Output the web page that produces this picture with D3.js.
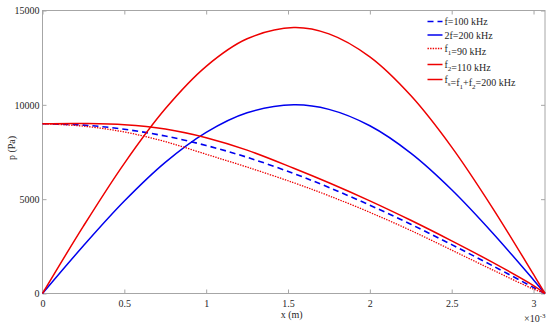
<!DOCTYPE html>
<html>
<head>
<meta charset="utf-8">
<script src="https://cdn.jsdelivr.net/npm/d3@7"></script>
<style>
  body { margin: 0; background: #fff; }
  svg text { font-family: "Liberation Serif", "Times New Roman", serif; }
</style>
</head>
<body>
<div id="chart"></div>
<script>
var xs = [0, 0.25, 0.5, 0.75, 1.0, 1.25, 1.535, 1.75, 2.0, 2.25, 2.5, 2.75, 3.0, 3.07];

// pressure (Pa) for each curve
var pF = [9000, 8925, 8705, 8345, 7845, 7220, 6360, 5620, 4680, 3670, 2590, 1470, 320, 0];
var p2F = [0, 2530, 4900, 6950, 8540, 9580, 10000, 9760, 8890, 7440, 5500, 3210, 720, 0];
var pF1 = [9000, 8870, 8560, 8050, 7380, 6700, 5870, 5180, 4300, 3340, 2300, 1250, 230, 0];
var pF2 = [9000, 9010, 8950, 8720, 8260, 7600, 6640, 5870, 4910, 3880, 2790, 1650, 420, 0];
var pFs = [0, 3570, 6900, 9790, 12040, 13500, 14100, 13760, 12540, 10490, 7760, 4530, 1010, 0];

var xTicks = [0, 0.5, 1, 1.5, 2, 2.5, 3];
var yTicks = [0, 5000, 10000, 15000];

var red = "#ee0000", blue = "#0000ee";

var series = [
  { name: "f", vals: pF, color: blue, dash: "6,4", w: 1.6 },
  { name: "2f", vals: p2F, color: blue, dash: null, w: 1.5 },
  { name: "f1", vals: pF1, color: red, dash: "1.4,1.2", w: 1.3 },
  { name: "f2", vals: pF2, color: red, dash: null, w: 1.5 },
  { name: "fs", vals: pFs, color: red, dash: null, w: 1.5 }
];

var width = 550, height = 324;
var plotL = 42.5, plotR = 545, plotT = 10.5, plotB = 293.5;

var svg = d3.select("#chart").append("svg")
  .attr("width", width)
  .attr("height", height);

var x = d3.scaleLinear().domain([0, 3.07]).range([plotL, plotR]);
var y = d3.scaleLinear().domain([0, 15000]).range([plotB, plotT]);

var axisColor = "#a6a6a6";
var textColor = "#262626";

function styleAxis(g) {
  g.select(".domain").remove();
  g.selectAll(".tick line").attr("stroke", axisColor);
  g.selectAll(".tick text").attr("fill", textColor).style("font-size", "10px")
    .style("font-family", "Liberation Serif, Times New Roman, serif");
}

// bottom and top
svg.append("g").attr("transform", "translate(0," + plotB + ")")
  .call(d3.axisBottom(x).tickValues(xTicks).tickSize(-4).tickPadding(6).tickFormat(d3.format("")))
  .call(styleAxis);
svg.append("g").attr("transform", "translate(0," + plotT + ")")
  .call(d3.axisTop(x).tickValues(xTicks).tickSize(-4).tickFormat(""))
  .call(styleAxis);

// left and right
svg.append("g").attr("transform", "translate(" + plotL + ",0)")
  .call(d3.axisLeft(y).tickValues(yTicks).tickSize(-4).tickPadding(3).tickFormat(d3.format("")))
  .call(styleAxis);
svg.append("g").attr("transform", "translate(" + plotR + ",0)")
  .call(d3.axisRight(y).tickValues(yTicks).tickSize(-4).tickFormat(""))
  .call(styleAxis);

// box
svg.append("rect")
  .attr("x", plotL).attr("y", plotT)
  .attr("width", plotR - plotL).attr("height", plotB - plotT)
  .attr("fill", "none").attr("stroke", axisColor).attr("stroke-width", 1);

// curves
var line = d3.line()
  .x(function (d, i) { return x(xs[i]); })
  .y(function (d) { return y(d); })
  .curve(d3.curveCatmullRom.alpha(0.5));

series.forEach(function (s) {
  svg.append("path")
    .datum(s.vals)
    .attr("d", line)
    .attr("fill", "none")
    .attr("stroke", s.color)
    .attr("stroke-width", s.w)
    .attr("stroke-dasharray", s.dash);
});

// axis labels
svg.append("text")
  .attr("x", (plotL + plotR) / 2 - 2).attr("y", 318)
  .attr("text-anchor", "middle")
  .attr("fill", textColor)
  .style("font-size", "10px")
  .text("x (m)");

var ex = svg.append("text")
  .attr("x", 524).attr("y", 322)
  .attr("fill", textColor)
  .style("font-size", "10px");
ex.append("tspan").text("\u00d710");
ex.append("tspan").attr("dy", -4).style("font-size", "7px").text("-3");

svg.append("text")
  .attr("transform", "translate(15,148) rotate(-90)")
  .attr("text-anchor", "middle")
  .attr("fill", textColor)
  .style("font-size", "10px")
  .text("p (Pa)");

// legend
var legendY = [21.5, 35, 48.5, 64.5, 79.5];
var legend = svg.append("g");

function sub(t, main, s) {
  t.append("tspan").text(main);
  t.append("tspan").attr("dy", 3).style("font-size", "7px").text(s);
  t.append("tspan").attr("dy", -3).text("");
}

series.forEach(function (s, i) {
  var ly = legendY[i];
  legend.append("line")
    .attr("x1", 427.5).attr("x2", 442.5)
    .attr("y1", ly).attr("y2", ly)
    .attr("stroke", s.color)
    .attr("stroke-width", s.w)
    .attr("stroke-dasharray", s.dash);
  var t = legend.append("text")
    .attr("x", 444.5).attr("y", ly + 3.5)
    .attr("fill", textColor)
    .style("font-size", "10px");
  if (s.name == "f") {
    t.text("f=100 kHz");
  } else if (s.name == "2f") {
    t.text("2f=200 kHz");
  } else if (s.name == "f1") {
    sub(t, "f", "1");
    t.append("tspan").text("=90 kHz");
  } else if (s.name == "f2") {
    sub(t, "f", "2");
    t.append("tspan").text("=110 kHz");
  } else {
    sub(t, "f", "s");
    t.append("tspan").text("=f");
    t.append("tspan").attr("dy", 3).style("font-size", "7px").text("1");
    t.append("tspan").attr("dy", -3).text("+f");
    t.append("tspan").attr("dy", 3).style("font-size", "7px").text("2");
    t.append("tspan").attr("dy", -3).text("=200 kHz");
  }
});
</script>
</body>
</html>
